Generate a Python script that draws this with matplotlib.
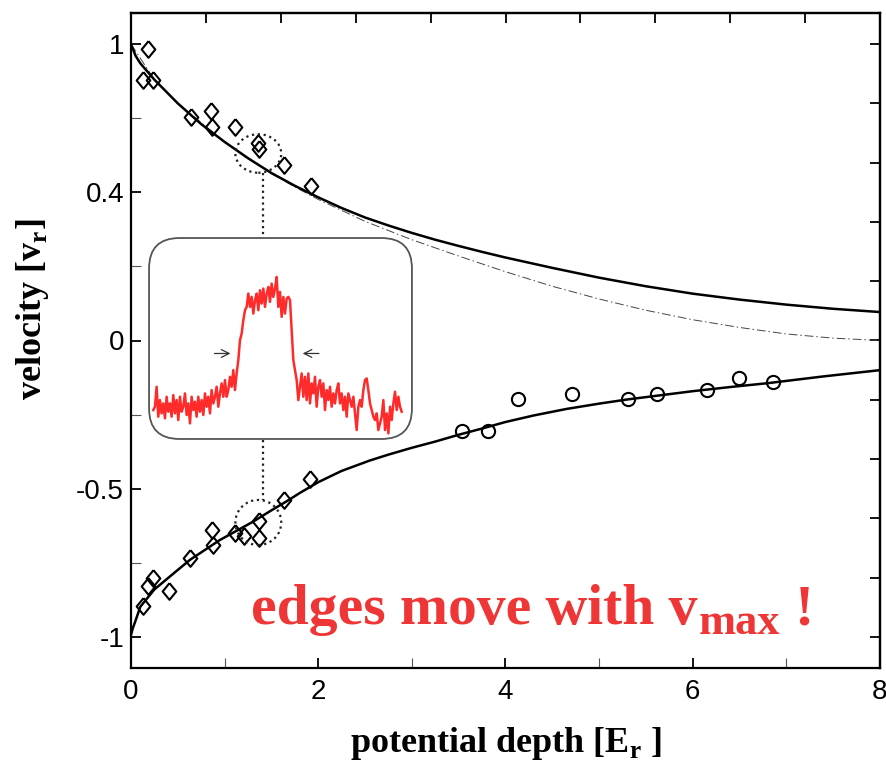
import matplotlib
matplotlib.use("Agg")
import matplotlib.pyplot as plt
import numpy as np
from matplotlib.patches import Ellipse, FancyBboxPatch
from matplotlib.ticker import MultipleLocator

# measured points, upper branch (diamonds)
up_x = [0.125, 0.185, 0.238, 0.641, 0.855, 0.869, 1.11, 1.354, 1.371, 1.638, 1.923]
up_v = [0.879, 0.985, 0.879, 0.755, 0.775, 0.719, 0.719, 0.665, 0.646, 0.592, 0.521]

# measured points, lower branch (diamonds + circles)
lo_x = [0.125, 0.185, 0.238, 0.41, 0.63, 0.862, 0.873, 1.11, 1.21, 1.371, 1.371, 1.635, 1.912]
lo_v = [-0.895, -0.828, -0.802, -0.844, -0.735, -0.639, -0.69, -0.648, -0.659, -0.609, -0.667, -0.538, -0.468]
circ_x = [3.533, 3.818, 4.131, 4.708, 5.306, 5.616, 6.157, 6.499, 6.862]
circ_v = [-0.305, -0.305, -0.197, -0.18, -0.197, -0.18, -0.167, -0.127, -0.141]

# theory curves
fit_up_x = [0, 0.05, 0.1, 0.25, 0.5, 0.75, 1.0, 1.25, 1.5, 1.75, 2.0, 2.25, 2.5, 2.75, 3.0,
            3.25, 3.5, 3.75, 4.0, 4.5, 5.0, 5.5, 6.0, 6.5, 7.0, 7.5, 8.0]
fit_up_v = [1.0, 0.96, 0.935, 0.88, 0.80, 0.73, 0.67, 0.615, 0.565, 0.522, 0.483, 0.447, 0.415,
            0.388, 0.363, 0.34, 0.319, 0.299, 0.28, 0.245, 0.212, 0.183, 0.158, 0.138, 0.121,
            0.107, 0.096]
dd_x = [0, 0.25, 0.5, 1.0, 1.5, 1.75, 2.0, 2.5, 3.0, 3.5, 4.0, 4.5, 5.0, 5.5, 6.0, 6.5, 7.0,
        7.5, 8.0]
dd_v = [1.0, 0.88, 0.80, 0.67, 0.563, 0.518, 0.476, 0.402, 0.34, 0.285, 0.232, 0.183, 0.14,
        0.102, 0.07, 0.044, 0.022, 0.008, 0.0]
fit_lo_x = [0, 0.02, 0.04, 0.1, 0.25, 0.42, 0.63, 0.95, 1.3, 1.5, 1.66, 1.8, 2.0, 2.25, 2.55,
            2.75, 3.0, 3.25, 3.5, 3.75, 4.0, 4.3, 4.65, 5.0, 5.3, 5.6, 6.0, 6.4, 6.8, 7.4, 8.0]
fit_lo_v = [-0.993, -0.97, -0.953, -0.898, -0.84, -0.795, -0.74, -0.673, -0.612, -0.573,
            -0.543, -0.515, -0.478, -0.44, -0.405, -0.385, -0.362, -0.341, -0.318, -0.297,
            -0.275, -0.253, -0.231, -0.213, -0.199, -0.187, -0.171, -0.157, -0.144, -0.121, -0.1]

# inset: density profile (arb. units)
trace = [80, 90, 150, 60, 110, 70, 100, 55, 120, 75, 100, 60, 125, 70, 110, 50, 120, 75, 90, 130,
         65, 100, 40, 120, 80, 105, 60, 120, 75, 110, 65, 130, 90, 120, 70, 140, 100, 120, 150, 90,
         130, 160, 120, 170, 120, 140, 180, 150, 200, 140, 190, 230, 290, 310, 350, 380, 390, 430,
         390, 420, 370, 410, 430, 380, 440, 400, 445, 390, 430, 450, 405, 460, 420, 445, 480, 390,
         435, 360, 420, 370, 415, 420, 410,
         320, 230, 200,
         170, 110, 150, 190, 120, 180, 110, 190, 100, 160, 130, 180, 90, 150, 170, 120, 160, 80,
         140, 110, 150, 90, 130, 100, 140, 160, 100, 130, 80, 120, 60, 130, 110, 90, 120, 70, 20,
         90, 110, 90, 140, 170, 175, 140, 100, 80, 60, 50, 70, 20, 40, 60, 110, 20, 70, 10, 90, 50,
         100, 135, 80, 120, 90, 75]

ytick_pos = [1, 0.5, 0, -0.5, -1]
ytick_lab = ['1', '0.4', '0', '-0.5', '-1']
xtick_pos = [0, 2, 4, 6, 8]

serif = ['Liberation Serif', 'DejaVu Serif']
sans = ['Liberation Sans', 'DejaVu Sans']
red = '#ef3636'

fig = plt.figure(figsize=(8.87, 7.72), dpi=100)
ax = fig.add_axes([131 / 887, 1 - 668 / 772, 749 / 887, 655 / 772])

ax.plot(fit_up_x, fit_up_v, color='black', lw=1.8, zorder=3)
ax.plot(dd_x, dd_v, color='#444444', lw=0.7, ls=(0, (9, 3, 1.5, 3)), zorder=2)
ax.plot(fit_lo_x, fit_lo_v, color='black', lw=1.8, zorder=3)

diamond = [(0, 1), (0.82, 0), (0, -1), (-0.82, 0), (0, 1)]
ax.plot(up_x, up_v, ls='none', marker=diamond, ms=12, mfc='none', mec='black', mew=1.5, zorder=4)
ax.plot(lo_x, lo_v, ls='none', marker=diamond, ms=12, mfc='none', mec='black', mew=1.5, zorder=4)
ax.plot(circ_x, circ_v, ls='none', marker='o', ms=9.5, mfc='none', mec='black', mew=1.5, zorder=4)

# dotted circles and connectors
ax.add_patch(Ellipse((1.36, 0.631), 0.49, 0.13, fill=False, ls=':', lw=1.6, ec='#222222', zorder=5))
ax.add_patch(Ellipse((1.36, -0.614), 0.49, 0.152, fill=False, ls=':', lw=1.6, ec='#222222', zorder=5))
ax.plot([1.41, 1.41], [0.566, 0.349], ls=':', lw=1.6, color='#222222', zorder=5)
ax.plot([1.41, 1.41], [-0.336, -0.538], ls=':', lw=1.6, color='#222222', zorder=5)

ax.set_xlim(0, 8)
ax.set_ylim(-1.105, 1.105)
ax.set_xticks(xtick_pos)
ax.set_yticks(ytick_pos, ytick_lab)
ax.xaxis.set_minor_locator(MultipleLocator(1))
ax.yaxis.set_minor_locator(MultipleLocator(0.25))
ax.tick_params(which='both', direction='in', length=7, width=1.3, top=False, right=False)
ax.tick_params(which='minor', width=0.8, color='#555555')
ax.tick_params(axis='x', pad=8)
ax.tick_params(axis='y', pad=5)
for lab in ax.get_xticklabels() + ax.get_yticklabels():
    lab.set_family(sans)
    lab.set_fontsize(20)
for s in ax.spines.values():
    s.set_linewidth(1.6)

top = ax.secondary_xaxis('top')
top.xaxis.set_major_locator(MultipleLocator(0.8))
top.tick_params(direction='in', length=7, width=1.3, labeltop=False)
top.spines['top'].set_linewidth(1.6)
right = ax.secondary_yaxis('right')
right.yaxis.set_major_locator(MultipleLocator(0.2))
right.tick_params(direction='in', length=7, width=1.3, labelright=False)
right.spines['right'].set_linewidth(1.6)

# red annotation
t1 = ax.text(1.282, -0.958, 'edges move with v', color=red, fontsize=41.5, fontweight='bold',
             family=serif, va='baseline', ha='left', zorder=6)
t2 = ax.annotate('max', xy=(1, 0), xycoords=t1, xytext=(1, -5), textcoords='offset points',
                 color=red, fontsize=32, fontweight='bold', family=serif, va='bottom', ha='left')
ax.annotate('!', xy=(1, 0), xycoords=(t2, t1), xytext=(10, 0), textcoords='offset points',
            color=red, fontsize=41.5, fontweight='bold', family=serif, va='bottom', ha='left')

fig.text(505.5 / 887, 1 - 743 / 772, r'potential depth [E$_\mathregular{r}$ ]', ha='center',
         va='center', fontsize=26, fontweight='bold', family=serif)
fig.text(33 / 887, 1 - 309 / 772, r'velocity [v$_\mathregular{r}$]', ha='center', va='center',
         rotation=90, fontsize=26, fontweight='bold', family=serif)

# inset with the density profile
ins = fig.add_axes([148 / 887, 1 - 440 / 772, 265 / 887, 203 / 772])
ins.set_facecolor('none')
ins.axis('off')
ins.add_patch(FancyBboxPatch((0.004, 0.005), 0.992, 0.99, transform=ins.transAxes,
                             boxstyle='round,pad=0,rounding_size=0.115', mutation_aspect=265 / 203,
                             fc='white', ec='#555555', lw=1.3, clip_on=False, zorder=0))
tx = np.linspace(0, 1, len(trace))
ins.plot(tx, trace, color='#ff2a2a', lw=1.8, zorder=2)
ins.set_xlim(-0.0213, 1.0455)
ins.set_ylim(-10, 600)
ins.annotate('', xy=(0.322, 250), xytext=(0.235, 250),
             arrowprops=dict(arrowstyle='->', color='#333333', lw=0.9, mutation_scale=14))
ins.annotate('', xy=(0.59, 250), xytext=(0.678, 250),
             arrowprops=dict(arrowstyle='->', color='#333333', lw=0.9, mutation_scale=14))

fig.savefig('out.png', dpi=100)
